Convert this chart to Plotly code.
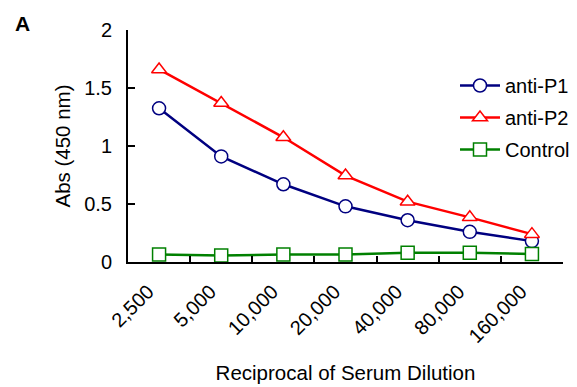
import plotly.graph_objects as go

categories = ["2,500", "5,000", "10,000", "20,000", "40,000", "80,000", "160,000"]
anti_p1 = [1.325, 0.91, 0.67, 0.48, 0.36, 0.26, 0.18]
anti_p2 = [1.66, 1.37, 1.075, 0.745, 0.52, 0.385, 0.24]
control = [0.065, 0.055, 0.065, 0.065, 0.08, 0.08, 0.07]
y_ticks = [0, 0.5, 1, 1.5, 2]
y_tick_labels = ["0", "0.5", "1", "1.5", "2"]

FONT = "Liberation Sans, Arial, sans-serif"
W, H = 577, 387
OFF = 8  # page body margin
L, R, T, B = 128 - OFF, 577 - 563 + OFF, 30 - OFF, 387 - 262 + OFF

series = [
    ("anti-P1", anti_p1, "#000080", "circle"),
    ("anti-P2", anti_p2, "#FF0000", "triangle-up"),
    ("Control", control, "#008000", "square"),
]

fig = go.Figure()
for i, (name, vals, color, sym) in enumerate(series):
    fig.add_trace(go.Scatter(
        x=categories, y=vals, name=name, mode="lines+markers",
        legendgroup=f"g{i}",
        line=dict(color=color, width=2.5),
        marker=dict(symbol=sym, size=13, color="white",
                    line=dict(color=color, width=1.5)),
    ))

pw = W - L - R
ph = H - T - B

fig.update_layout(
    width=W, height=H,
    margin=dict(l=L, r=R, t=T, b=B, autoexpand=False),
    plot_bgcolor="white", paper_bgcolor="white",
    font=dict(family=FONT, size=20, color="black"),
    showlegend=True,
    legend=dict(x=(455 - OFF - L) / pw, y=1 - (66 - OFF - T) / ph, xanchor="left", yanchor="top",
                bgcolor="rgba(0,0,0,0)", tracegroupgap=3, itemwidth=40,
                font=dict(size=20)),
    xaxis=dict(
        type="category", range=[-0.5, 6.5], tickson="boundaries",
        ticks="inside", ticklen=6, tickwidth=2, tickcolor="black",
        showline=True, linecolor="black", linewidth=2,
        showgrid=False, zeroline=False, tickangle=-45, automargin=False,
        tickfont=dict(size=20), ticklabelstandoff=8, ticklabelshift=-11,
        title=dict(text="Reciprocal of Serum Dilution", standoff=20, font=dict(size=20.5)),
    ),
    yaxis=dict(
        range=[0, 2], tickvals=y_ticks, ticktext=y_tick_labels,
        ticks="inside", ticklen=7, tickwidth=2, tickcolor="black",
        showline=True, linecolor="black", linewidth=2,
        showgrid=False, zeroline=False, automargin=False,
        tickfont=dict(size=20), ticklabelstandoff=10,
        title=dict(text="Abs (450 nm)", standoff=8, font=dict(size=20.5)),
    ),
    annotations=[dict(text="<b>A</b>", x=(22 - OFF - L) / pw, y=1 - (24 - OFF - T) / ph,
                      xref="paper", yref="paper", xanchor="center", yanchor="middle",
                      showarrow=False, font=dict(size=21))],
)

fig.write_html("out.html")
